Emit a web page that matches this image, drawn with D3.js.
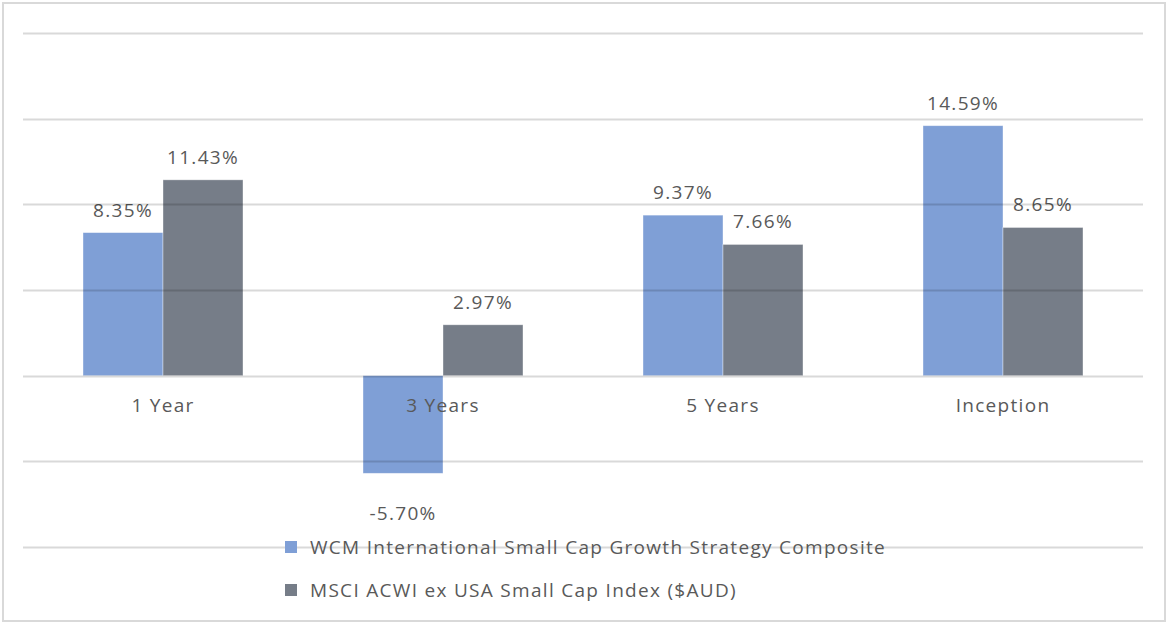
<!DOCTYPE html>
<html>
<head>
<meta charset="utf-8">
<script src="https://d3js.org/d3.v7.min.js"></script>
<style>
  body { margin: 0; background: #fff; }
  text { font-family: "Open Sans", sans-serif; fill: #595959; font-size: 19px; letter-spacing: 1.3px; }
</style>
</head>
<body>
<svg width="1167" height="623"></svg>
<script>
// data
var periods = ["1 Year", "3 Years", "5 Years", "Inception"];
var seriesNames = ["WCM International Small Cap Growth Strategy Composite",
                   "MSCI ACWI ex USA Small Cap Index ($AUD)"];
var wcm  = [8.35, -5.70, 9.37, 14.59];
var msci = [11.43, 2.97, 7.66, 8.65];
var gridTicks = [-10, -5, 0, 5, 10, 15, 20];
var colors = ["#7f9fd6", "#767d88"];

var svg = d3.select("svg"),
    width = +svg.attr("width"),
    height = +svg.attr("height");

// chart frame
svg.append("rect")
    .attr("x", 3).attr("y", 3)
    .attr("width", width - 5).attr("height", height - 5)
    .attr("fill", "#fff")
    .attr("stroke", "#d9d9d9")
    .attr("stroke-width", 2);

var x = d3.scaleBand()
    .domain(periods)
    .range([23, 1143])
    .paddingInner(0.4286)
    .paddingOuter(0.2143);

var x1 = d3.scaleBand()
    .domain([0, 1])
    .range([0, x.bandwidth()]);

var y = d3.scaleLinear()
    .domain([-10, 20])
    .range([547, 33]);

var rows = periods.map(function(p, i) {
  return {period: p, values: [wcm[i], msci[i]]};
});

// bars
var group = svg.selectAll(".grp")
    .data(rows)
  .enter().append("g")
    .attr("class", "grp")
    .attr("transform", function(d) { return "translate(" + x(d.period) + ",0)"; });

group.selectAll("rect")
    .data(function(d) { return d.values.map(function(v, s) { return {v: v, s: s}; }); })
  .enter().append("rect")
    .attr("x", function(d) { return x1(d.s); })
    .attr("width", x1.bandwidth())
    .attr("y", function(d) { return y(Math.max(0, d.v)); })
    .attr("height", function(d) { return Math.abs(y(d.v) - y(0)); })
    .attr("fill", function(d) { return colors[d.s]; })
    .attr("stroke", "#fff")
    .attr("stroke-opacity", 0.5)
    .attr("stroke-width", 0.75);

// gridlines (drawn over the bars, as in the original)
svg.append("g")
    .selectAll("line")
    .data(gridTicks)
  .enter().append("line")
    .attr("x1", 23).attr("x2", 1143)
    .attr("y1", function(d) { return Math.round(y(d)) + 0.5; })
    .attr("y2", function(d) { return Math.round(y(d)) + 0.5; })
    .attr("stroke", "#000")
    .attr("stroke-opacity", 0.15)
    .attr("stroke-width", 2);

// category labels
svg.append("g")
    .selectAll("text")
    .data(periods)
  .enter().append("text")
    .attr("x", function(d) { return x(d) + x.bandwidth() / 2; })
    .attr("y", y(0) + 36)
    .attr("text-anchor", "middle")
    .text(function(d) { return d; });

// value labels
group.selectAll(".val")
    .data(function(d) { return d.values.map(function(v, s) { return {v: v, s: s}; }); })
  .enter().append("text")
    .attr("class", "val")
    .attr("x", function(d) { return x1(d.s) + x1.bandwidth() / 2; })
    .attr("y", function(d) { return d.v >= 0 ? y(d.v) - 16 : y(d.v) + 47; })
    .attr("text-anchor", "middle")
    .text(function(d) { return d.v.toFixed(2) + "%"; });

// legend
var legend = svg.append("g")
    .selectAll("g")
    .data(seriesNames)
  .enter().append("g")
    .attr("transform", function(d, i) { return "translate(285," + (541 + i * 43) + ")"; });

legend.append("rect")
    .attr("width", 12).attr("height", 12)
    .attr("fill", function(d, i) { return colors[i]; });

legend.append("text")
    .attr("x", 25).attr("y", 13)
    .text(function(d) { return d; });
</script>
</body>
</html>
